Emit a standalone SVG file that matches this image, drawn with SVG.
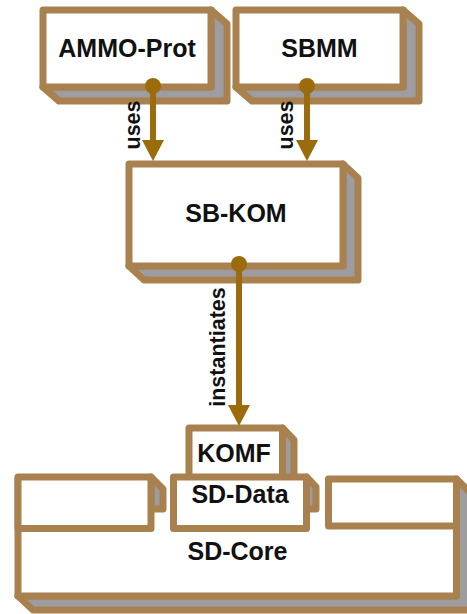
<svg xmlns="http://www.w3.org/2000/svg" width="467" height="614" viewBox="0 0 467 614">
  <style>
    .side { fill: #9d9da1; stroke: #a8814e; stroke-width: 7; stroke-linejoin: round; }
    .front { fill: #ffffff; stroke: #a8814e; stroke-width: 7; stroke-linejoin: round; }
    .edge { fill: none; stroke: #a8814e; stroke-width: 7; stroke-linejoin: round; }
    .name { font-family: "Liberation Sans", Arial, sans-serif; font-weight: bold; font-size: 25px; fill: #111111; text-anchor: middle; }
    .lbl { font-family: "Liberation Sans", Arial, sans-serif; font-weight: bold; font-size: 21.5px; fill: #111111; text-anchor: middle; }
    .wire { stroke: #9c6b0c; stroke-width: 6; fill: none; }
    .dot { fill: #9c6b0c; }
    .head { fill: #9c6b0c; }
  </style>

  <!-- SD-Core: base block with three slots on top -->
  <g id="sd-core">
    <polygon class="side" points="456.5,479 470.5,493 470.5,610 33,610 18,596 456.5,596"/>
    <rect x="18" y="477" width="438.5" height="119" fill="#ffffff"/>
    <path class="edge" d="M18,477 V596 H456.5 V479"/>
    <text class="name" x="237.5" y="560">SD-Core</text>
  </g>

  <!-- left slot -->
  <g id="slot-left">
    <polygon class="side" points="151,477 163,489 163,509 151,509"/>
    <rect class="front" x="18" y="477" width="133" height="51.5"/>
  </g>

  <!-- KOMF sits on SD-Data -->
  <g id="komf">
    <polygon class="side" points="282.5,428 294,440 294,478 282.5,478"/>
    <rect class="front" x="189" y="428" width="93.5" height="50"/>
    <text class="name" x="234" y="462">KOMF</text>
  </g>

  <g id="sd-data">
    <polygon class="side" points="306.5,477 316,487 316,509 306.5,509"/>
    <rect class="front" x="173.5" y="477" width="133" height="51.5"/>
    <text class="name" x="240" y="503">SD-Data</text>
  </g>

  <!-- right slot -->
  <g id="slot-right">
    <rect class="front" x="328.5" y="479" width="128" height="47"/>
  </g>

  <g id="ammo-prot">
    <polygon class="side" points="211,10 227,24 227,101 59,101 43,87 211,87"/>
    <rect class="front" x="43" y="10" width="168" height="77"/>
    <text class="name" x="127" y="57">AMMO-Prot</text>
  </g>

  <g id="sbmm">
    <polygon class="side" points="403,10 419,24 419,101 252,101 236,87 403,87"/>
    <rect class="front" x="236" y="10" width="167" height="77"/>
    <text class="name" x="319.5" y="57">SBMM</text>
  </g>

  <g id="sb-kom">
    <polygon class="side" points="343,164 358,178 358,280 144,280 129,266 343,266"/>
    <rect class="front" x="129" y="164" width="214" height="102"/>
    <text class="name" x="236" y="222">SB-KOM</text>
  </g>

  <!-- dependency arrows -->
  <g id="connectors">
    <line class="wire" x1="153" y1="86" x2="153" y2="142"/>
    <circle class="dot" cx="153" cy="86" r="8"/>
    <polygon class="head" points="142,140 164,140 153,161"/>
    <text class="lbl" transform="translate(140,125) rotate(-90)">uses</text>

    <line class="wire" x1="307" y1="86" x2="307" y2="142"/>
    <circle class="dot" cx="307" cy="86" r="8"/>
    <polygon class="head" points="296,140 318,140 307,161"/>
    <text class="lbl" transform="translate(293,125) rotate(-90)">uses</text>

    <line class="wire" x1="239" y1="264" x2="239" y2="407"/>
    <circle class="dot" cx="239" cy="264" r="8"/>
    <polygon class="head" points="228,405 250,405 239,426"/>
    <text class="lbl" transform="translate(225,347) rotate(-90)">instantiates</text>
  </g>
</svg>
